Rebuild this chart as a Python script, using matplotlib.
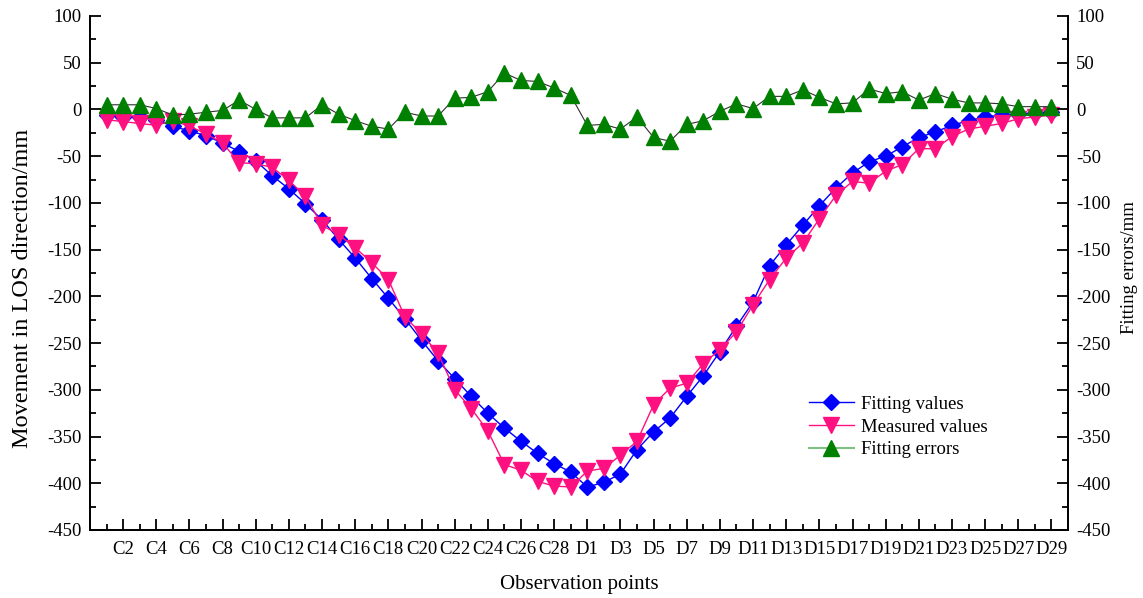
import matplotlib
matplotlib.use("Agg")
import matplotlib.pyplot as plt
from matplotlib.lines import Line2D
from matplotlib.ticker import MultipleLocator

plt.rcParams['font.family'] = ['Liberation Serif', 'DejaVu Serif']
plt.rcParams['axes.unicode_minus'] = False

# observation points C1..C29, D1..D29
points = ['C%d' % i for i in range(1, 30)] + ['D%d' % i for i in range(1, 30)]

fitting = [-6, -8, -8, -11, -18, -23, -28, -36, -45, -55, -71, -85, -101, -118, -139,
           -159, -181, -202, -224, -247, -269, -288, -307, -325, -341, -355, -368, -379, -388,
           -404, -399, -390, -364, -345, -330, -307, -285, -259, -232, -206, -167, -145, -124,
           -103, -84, -68, -56, -50, -40, -30, -24, -17, -12, -8, -6, -5, -4, -3]
measured = [-11, -13, -15, -17, -12, -18, -26, -36, -57, -58, -62, -76, -93, -124, -134,
            -148, -164, -182, -222, -240, -261, -300, -320, -344, -380, -386, -398, -403, -404,
            -387, -384, -370, -355, -316, -298, -293, -272, -257, -238, -209, -182, -159, -143,
            -117, -92, -77, -79, -66, -59, -42, -42, -29, -21, -18, -15, -10, -8, -6]
errors = [5, 5, 5, 1, -6, -5, -3, -1, 10, 0, -9, -9, -9, 5, -5,
          -12, -18, -21, -3, -7, -7, 12, 13, 19, 39, 31, 30, 23, 15,
          -17, -16, -21, -8, -30, -34, -16, -12, -2, 6, 1, 14, 14, 21,
          13, 6, 7, 22, 17, 19, 10, 17, 11, 7, 7, 6, 3, 3, 3]

x = list(range(len(points)))

fig = plt.figure(figsize=(11.43, 5.98), dpi=100)
ax = fig.add_axes([90/1143, 1-530/598, (1068-90)/1143, (530-16)/598])

ax.plot(x, fitting, color='#0000ff', lw=1, marker='D', ms=8, mec='#0000ff', mfc='#0000ff', zorder=2)
ax.plot(x, measured, color='#ff1080', lw=1, marker='v', ms=11, mec='#ff1080', mfc='#ff1080', zorder=3)

ax2 = ax.twinx()
ax2.plot(x, errors, color='#303030', lw=0.8, marker='^', ms=11, mec='#008000', mfc='#008000')

for a in (ax, ax2):
    a.set_ylim(-450, 100)
    a.yaxis.set_major_locator(MultipleLocator(50))
    a.yaxis.set_minor_locator(MultipleLocator(25))
    a.spines['top'].set_visible(False)
    for s in a.spines.values():
        s.set_linewidth(1.3)
ax.set_xlim(-1, 58)

major = list(range(1, 58, 2))
ax.set_xticks(major)
ax.set_xticklabels([points[i] for i in major])
ax.set_xticks(list(range(0, 58, 2)), minor=True)

ax.tick_params(axis='both', which='major', direction='in', length=8, width=1.3, labelsize=13.5, pad=8)
ax.tick_params(axis='both', which='minor', direction='in', length=4, width=1.3)
ax.tick_params(axis='y', which='major', pad=6)
ax2.tick_params(axis='y', which='major', direction='in', length=8, width=1.3, labelsize=13.5, pad=6)
ax2.tick_params(axis='y', which='minor', direction='in', length=4, width=1.3)

ax.set_xlabel('Observation points', fontsize=15, labelpad=12)
ax.set_ylabel('Movement in LOS direction/mm', fontsize=17.5)
ax.yaxis.set_label_coords(-0.058, 0.471)
ax2.set_ylabel('Fitting errors/mm', fontsize=13.5)
ax2.yaxis.set_label_coords(1.054, 0.51)

handles = [
    Line2D([], [], color='#0000ff', lw=1, marker='D', ms=8, mfc='#0000ff', mec='#0000ff'),
    Line2D([], [], color='#ff1080', lw=1, marker='v', ms=11, mfc='#ff1080', mec='#ff1080'),
    Line2D([], [], color='#80c080', lw=1.5, marker='^', ms=11, mfc='#008000', mec='#008000'),
]
fig.legend(handles, ['Fitting values', 'Measured values', 'Fitting errors'],
           loc='upper left', bbox_to_anchor=(792/1143, 1-379/598), frameon=False,
           fontsize=13.5, handlelength=2.4, handletextpad=0.4, labelspacing=0.3)

fig.savefig('out.png', dpi=100)
